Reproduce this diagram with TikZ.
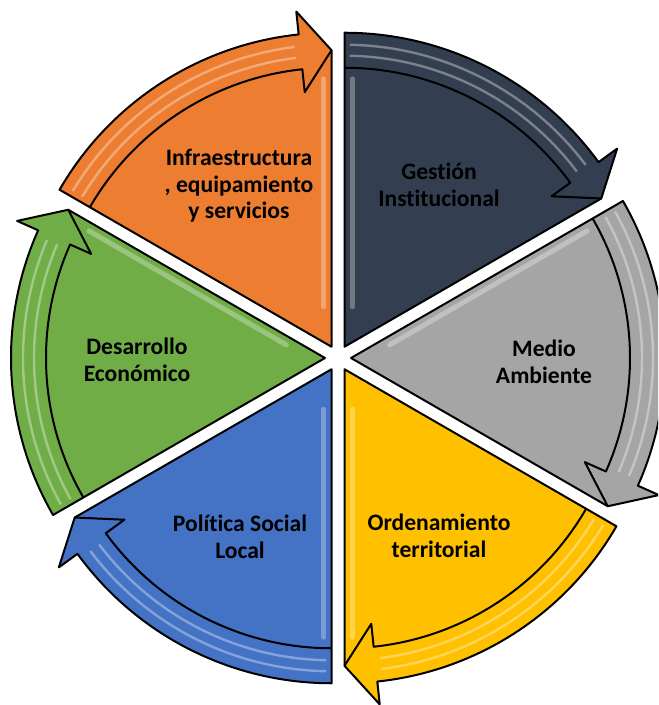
\documentclass[tikz,border=0pt]{standalone}
\usepackage{fontspec}
\setmainfont{Carlito}[Ligatures=NoCommon]
\definecolor{orangeC}{HTML}{ED7D31}
\definecolor{navyC}{HTML}{333F50}
\definecolor{grayC}{HTML}{A5A5A5}
\definecolor{yellowC}{HTML}{FFC000}
\definecolor{blueC}{HTML}{4472C4}
\definecolor{greenC}{HTML}{70AD47}
\tikzset{
  seglabel/.style={align=center, text=black,
    font=\fontsize{11.8}{13.3}\selectfont\bfseries},
  gloss/.style={white, opacity=0.35, line width=1.2pt},
  bevel/.style={white, opacity=0.3, line width=2.5pt, line cap=round}
}
\begin{document}
\begin{tikzpicture}[x=0.5pt,y=0.5pt,line join=round]
  \useasboundingbox (-338,-347) rectangle (320,358);
  \clip (-338,-347) rectangle (320,358);
  % segments: start angle / colour / bevel edge / bevel side
  \foreach \aS/\col/\aH/\dH in {150/orangeC/90/180,90/navyC/90/0,
      30/grayC/30/-60,-30/yellowC/-90/0,-90/blueC/-90/180,-150/greenC/150/240}
   {
    \pgfmathsetmacro\aE{\aS-60}
    \pgfmathsetmacro\aB{\aE+6}
    \pgfmathsetmacro\aM{\aS-30}
    \begin{scope}[shift={(\aM:13)}]
      %wedge, band and head
      \filldraw[fill=\col, draw=black, line width=1pt]
        (0,0) -- (\aS:314) arc[start angle=\aS, end angle=\aB, radius=314]
        -- (\aB:337) -- (\aE:296.5) -- cycle;
      %bevel light
      \begin{scope}[shift={(\dH:8)}]
        \draw[bevel] (\aH:40) -- (\aH:268);
      \end{scope}
      %gloss on the band
      \draw[gloss] ({\aS-1}:291) arc[start angle={\aS-1}, end angle={\aB+1}, radius=291];
      \draw[gloss] ({\aS-1}:302) arc[start angle={\aS-1}, end angle={\aB+1}, radius=302];
      %inner edge of band and head
      \draw[line width=1pt]
        (\aS:279) arc[start angle=\aS, end angle=\aB, radius=279]
        -- (\aB:256) -- (\aE:296.5);
    \end{scope}
   }
  % labels
  \node[seglabel] (infra) at (-99,172) {Infraestructura\\, equipamiento\\y servicios};
  \node[seglabel] (gestion) at (101,173) {Gestión\\Institucional};
  \node[seglabel] (medio) at (206,-4) {Medio\\Ambiente};
  \node[seglabel] (orden) at (101,-178) {Ordenamiento\\territorial};
  \node[seglabel] (politica) at (-98,-179) {Política Social\\Local};
  \node[seglabel] (desarrollo) at (-201,-2) {Desarrollo\\Económico};
\end{tikzpicture}
\end{document}
